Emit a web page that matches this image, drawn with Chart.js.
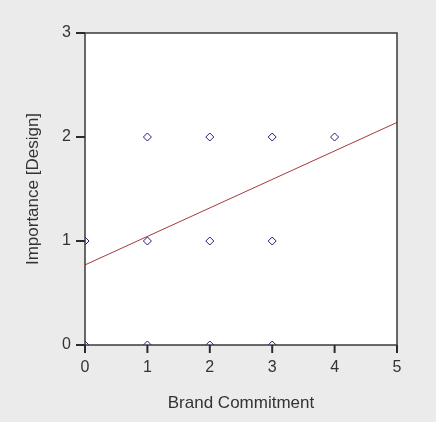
<!DOCTYPE html>
<html>
<head>
<meta charset="utf-8">
<script src="https://cdn.jsdelivr.net/npm/chart.js@4/dist/chart.umd.min.js"></script>
<style>
  html, body { margin: 0; padding: 0; background: #ebebeb; }
  canvas { display: block; }
</style>
</head>
<body>
<canvas id="chart" width="436" height="422"></canvas>
<script>
// Observed points (Brand Commitment vs Importance [Design])
const commitment = [0, 0, 1, 1, 1, 2, 2, 2, 3, 3, 3, 4];
const importance = [0, 1, 0, 1, 2, 0, 1, 2, 0, 1, 2, 2];

// Fitted line, read at both ends of the x range
const fitX = [0, 5];
const fitY = [0.77, 2.14];

const xTicks = [0, 1, 2, 3, 4, 5];
const yTicks = [0, 1, 2, 3];

const FONT = "'Liberation Sans', Arial, sans-serif";
const INK = "#333333";

// white plot area, dark frame and outward tick marks
const frame = {
  id: "frame",
  beforeDraw(chart) {
    const { ctx, chartArea: a } = chart;
    ctx.save();
    ctx.fillStyle = "#ffffff";
    ctx.fillRect(a.left, a.top, a.right - a.left, a.bottom - a.top);
    ctx.restore();
  },
  afterDraw(chart) {
    const { ctx, chartArea: a, scales } = chart;
    ctx.save();
    ctx.strokeStyle = "#3a3a3a";
    ctx.lineWidth = 1.5;
    ctx.strokeRect(a.left, a.top, a.right - a.left, a.bottom - a.top);

    ctx.strokeStyle = "#2a2a2a";
    ctx.lineWidth = 2;
    xTicks.forEach((v) => {
      const px = scales.x.getPixelForValue(v);
      ctx.beginPath();
      ctx.moveTo(px, a.bottom);
      ctx.lineTo(px, a.bottom + 8);
      ctx.stroke();
    });
    yTicks.forEach((v) => {
      const py = scales.y.getPixelForValue(v);
      ctx.beginPath();
      ctx.moveTo(a.left, py);
      ctx.lineTo(a.left - 9, py);
      ctx.stroke();
    });
    ctx.restore();
  },
};

const points = commitment.map((x, i) => ({ x: x, y: importance[i] }));
const fit = fitX.map((x, i) => ({ x: x, y: fitY[i] }));

function axisOptions(min, max, ticks, size, tickLength, title, titlePad) {
  return {
    type: "linear",
    min: min,
    max: max,
    afterFit: (s) => {
      if (s.isHorizontal()) s.height = size;
      else s.width = size;
    },
    afterBuildTicks: (s) => { s.ticks = ticks.map((v) => ({ value: v })); },
    border: { display: false },
    grid: {
      display: false,
      drawTicks: true,
      tickLength: tickLength,
    },
    ticks: {
      color: INK,
      padding: 5,
      font: { family: FONT, size: 16 },
    },
    title: {
      display: true,
      text: title,
      color: INK,
      padding: { top: titlePad, bottom: titlePad },
      font: { family: FONT, size: 17 },
    },
  };
}

new Chart(document.getElementById("chart"), {
  type: "scatter",
  data: {
    datasets: [
      {
        label: "Fit",
        type: "line",
        data: fit,
        borderColor: "#a33a3a",
        borderWidth: 1,
        pointRadius: 0,
        fill: false,
      },
      {
        label: "Observed",
        data: points,
        pointStyle: "rectRot",
        pointRadius: 4,
        pointBorderWidth: 1,
        pointBackgroundColor: "#ffffff",
        pointBorderColor: "#22227e",
      },
    ],
  },
  options: {
    responsive: false,
    animation: false,
    devicePixelRatio: 1,
    layout: { padding: { top: 33, right: 39, left: 0, bottom: 0 } },
    plugins: {
      legend: { display: false },
      tooltip: { enabled: false },
    },
    scales: {
      x: axisOptions(0, 5, xTicks, 77, 8, "Brand Commitment", 8),
      y: axisOptions(0, 3, yTicks, 85, 9, "Importance [Design]", 23),
    },
  },
  plugins: [frame],
});
</script>
</body>
</html>
